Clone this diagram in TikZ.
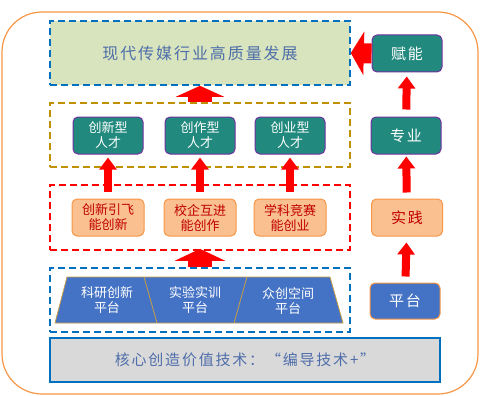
\documentclass[tikz,border=0pt]{standalone}
\usepackage{fontspec}
\setmainfont{Noto Sans CJK SC}
\newfontfamily\widecjk[LetterSpace=12]{Noto Sans CJK SC}
\usetikzlibrary{arrows.meta}
\definecolor{tealbox}{RGB}{33,137,125}
\definecolor{purpline}{RGB}{112,48,160}
\definecolor{goalfill}{RGB}{215,228,189}
\definecolor{dashblue}{RGB}{0,112,192}
\definecolor{dashbrown}{RGB}{191,144,0}
\definecolor{orangefill}{RGB}{250,192,143}
\definecolor{orangeline}{RGB}{247,150,70}
\definecolor{darkred}{RGB}{192,0,0}
\definecolor{platblue}{RGB}{68,114,196}
\definecolor{goldline}{RGB}{201,160,70}
\definecolor{grayfill}{RGB}{217,217,217}
\definecolor{textblue}{RGB}{79,110,170}
\begin{document}
\begin{tikzpicture}[x=1pt,y=-1pt,
  talent/.style={draw=purpline, line width=1pt, fill=tealbox, rounded corners=5pt,
    text=white, minimum width=70pt, minimum height=37pt, align=center, inner sep=1pt,
    font=\fontsize{13}{15}\selectfont},
  skill/.style={draw=orangeline, line width=1pt, fill=orangefill, rounded corners=5pt,
    text=darkred, minimum width=72pt, minimum height=37pt, align=center, inner sep=1pt,
    font=\fontsize{13}{15}\selectfont},
  platlabel/.style={text=white, align=center, font=\fontsize{13}{15}\selectfont},
  bigword/.style={font=\widecjk\fontsize{15}{17}\selectfont},
  frame/.style={line width=1.6pt, dash pattern=on 7pt off 4pt, minimum width=300pt,
    minimum height=64pt},
  smallup/.style={draw=red, line width=8pt, -{Triangle[width=17pt,length=12pt]}},
  bigup/.style={draw=red, line width=24pt, -{Triangle[width=48pt,length=11pt]}}]
\useasboundingbox (0,0) rectangle (482,396);

\draw[orangeline, line width=1.2pt, rounded corners=40pt] (2,12) rectangle (478,394);

% left column
\node[frame, draw=dashblue, fill=goalfill, text=textblue,
  font=\widecjk\fontsize{16}{18}\selectfont] (goal) at (200,53) {现代传媒行业高质量发展};

\node[frame, draw=dashbrown] (talentbox) at (200,135) {};
\node[talent] (t1) at (108,135.5) {创新型\\人才};
\node[talent] (t2) at (200,135.5) {创作型\\人才};
\node[talent] (t3) at (290,135.5) {创业型\\人才};

\node[frame, draw=red, minimum height=65pt] (skillbox) at (200,217.5) {};
\node[skill] (s1) at (108,217.5) {创新引飞\\能创新};
\node[skill] (s2) at (200,217.5) {校企互进\\能创作};
\node[skill] (s3) at (290,217.5) {学科竞赛\\能创业};

\node[frame, draw=dashblue] (platbox) at (200,300) {};
\fill[platblue] (67,277) -- (330,277) -- (343,323) -- (55,323) -- cycle;
\draw[goldline, line width=0.8pt] (67,277) -- (330,277) -- (343,323) -- (55,323) -- cycle;
\draw[goldline, line width=0.8pt] (144,277) -- (157,323);
\draw[goldline, line width=0.8pt] (247,277) -- (234,323);
\node[platlabel] (p1) at (107,300) {科研创新\\平台};
\node[platlabel] (p2) at (195,300) {实验实训\\平台};
\node[platlabel] (p3) at (288,301) {众创空间\\平台};

\node[draw=dashblue, line width=1.4pt, fill=grayfill, text=textblue,
  minimum width=390pt, minimum height=44pt, font=\widecjk\fontsize{15}{17}\selectfont]
  (core) at (245,360) {核心创造价值技术：“编导技术+”};

% right column
\node[talent, bigword] (funeng) at (407,53.5) {赋能};
\node[talent, bigword] (zhuanye) at (406,135.5) {专业};
\node[skill, minimum width=71pt, bigword] (shijian) at (407,217.5) {实践};
\node[draw=orangeline, line width=1pt, fill=platblue, rounded corners=5pt, text=white,
  minimum width=70pt, minimum height=36pt, bigword] (pingtai) at (405,301) {平台};

% arrows
\draw[smallup, shorten <=7pt, shorten >=3pt] (s1) -- (t1);
\draw[smallup, shorten <=7pt, shorten >=3pt] (s2) -- (t2);
\draw[smallup, shorten <=7pt, shorten >=3pt] (s3) -- (t3);
\draw[bigup] (talentbox.north) -- (goal.south);
\draw[bigup, -{Triangle[width=50pt,length=12pt]}, shorten >=-2pt] (platbox.north) -- (skillbox.south);

\draw[smallup, shorten <=6pt, shorten >=6pt] (pingtai) -- (shijian);
\draw[smallup, shorten <=6pt, shorten >=2pt] (shijian) -- (zhuanye);
\draw[smallup, shorten <=7pt, shorten >=4pt] (zhuanye) -- (funeng);
\draw[draw=red, line width=20pt, -{Triangle[width=43pt,length=13pt]}] (funeng.west) -- (goal.east);
\end{tikzpicture}
\end{document}
